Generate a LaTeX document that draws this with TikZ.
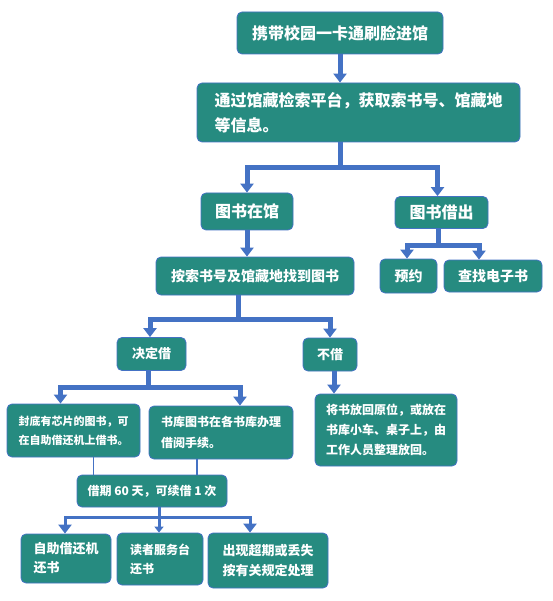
\documentclass[tikz,border=0pt]{standalone}
\usepackage{fontspec}
\setmainfont{Noto Sans CJK SC}
\usepackage{tikz}
\usetikzlibrary{arrows.meta,shapes}
\definecolor{boxfill}{RGB}{38,139,128}
\definecolor{linkblue}{RGB}{68,114,196}
\tikzstyle{step box}=[rectangle,rounded corners=5pt,fill=boxfill,draw=linkblue,line width=0.8pt,text=white,font=\bfseries,inner sep=0pt,align=left]
\tikzstyle{link} = [draw=linkblue,line width=5pt,-{Triangle[width=13pt,length=9pt]}]
\tikzstyle{thin link} = [draw=linkblue,line width=1.6pt]
\newcommand{\fs}[2]{\fontsize{#1}{#2}\selectfont}

\begin{document}
\begin{tikzpicture}[x=1pt,y=-1pt]
        \useasboundingbox[fill=white] (0,0) rectangle (552,601);
        \node[step box,minimum width=206pt,minimum height=42pt,font=\bfseries\fs{16}{20}] (gate) at (340,33) {携带校园一卡通刷脸进馆};
        \node[step box,minimum width=323pt,minimum height=59pt,font=\bfseries\fs{16}{25}] (info) at (358.5,112.5) {通过馆藏检索平台，获取索书号、馆藏地\\等信息。};
        \node[step box,minimum width=92pt,minimum height=37pt,font=\bfseries\fs{16}{20}] (inlib) at (247,211.5) {图书在馆};
        \node[step box,minimum width=93pt,minimum height=32pt,font=\bfseries\fs{16}{20}] (out) at (441.5,212.5) {图书借出};
        \node[step box,minimum width=57pt,minimum height=34pt,font=\bfseries\fs{14}{18}] (reserve) at (408.5,276) {预约};
        \node[step box,minimum width=98pt,minimum height=32pt,font=\bfseries\fs{14}{18}] (ebook) at (493,276) {查找电子书};
        \node[step box,minimum width=198pt,minimum height=38pt,font=\bfseries\fs{14}{18}] (find) at (255,276) {按索书号及馆藏地找到图书};
        \node[step box,minimum width=69pt,minimum height=33pt,font=\bfseries\fs{13}{17}] (borrow) at (151.5,354) {决定借};
        \node[step box,minimum width=54pt,minimum height=33pt,font=\bfseries\fs{13}{17}] (noborrow) at (330,354.5) {不借};
        \node[step box,minimum width=133pt,minimum height=53pt,font=\bfseries\fs{11}{19}] (chip) at (73.5,430.5) {封底有芯片的图书，可\\在自助借还机上借书。};
        \node[step box,minimum width=144pt,minimum height=53pt,font=\bfseries\fs{12}{21}] (stack) at (221,432.5) {书库图书在各书库办理\\借阅手续。};
        \node[step box,minimum width=142pt,minimum height=72pt,font=\bfseries\fs{12}{20}] (back) at (386,430) {将书放回原位，或放在\\书库小车、桌子上，由\\工作人员整理放回。};
        \node[step box,minimum width=150pt,minimum height=32pt,font=\bfseries\fs{12}{16}] (term) at (152,491) {借期 60 天，可续借 1 次};
        \node[step box,minimum width=90pt,minimum height=49pt,font=\bfseries\fs{13}{19}] (selfret) at (66,558.5) {自助借还机\\还书};
        \node[step box,minimum width=86pt,minimum height=52pt,font=\bfseries\fs{12}{19}] (desk) at (160,559) {读者服务台\\还书};
        \node[step box,minimum width=120pt,minimum height=55pt,font=\bfseries\fs{13}{20}] (rule) at (268,560.5) {出现超期或丢失\\按有关规定处理};
        % connectors
        \draw[link] (gate.south) -- (gate.south |- info.north);
        \draw[link] (gate.south |- info.south) -- ++(0,25) -| (inlib.north);
        \draw[link] (gate.south |- info.south) -- ++(0,25) -| ([xshift=-4pt]out.north);
        \draw[link] (inlib.south) -- (inlib.south |- find.north);
        \draw[link] ([xshift=-3pt]out.south) -- ++(0,17) -| ([xshift=-1.5pt]reserve.north);
        \draw[link] ([xshift=-3pt]out.south) -- ++(0,17) -| ([xshift=-14pt]ebook.north);
        \draw[link] ([xshift=-17pt]find.south) -- ++(0,24) -| ([xshift=-1.5pt]borrow.north);
        \draw[link] ([xshift=-17pt]find.south) -- ++(0,24) -| (noborrow.north);
        \draw[link] ([xshift=-3pt]borrow.south) -- ++(0,17) -| ([xshift=-13pt]chip.north);
        \draw[link] ([xshift=-3pt]borrow.south) -- ++(0,17) -| ([xshift=19pt]stack.north);
        \draw[link] ([xshift=4pt]noborrow.south) -- ([xshift=4pt]noborrow.south |- back.north);
        \draw[thin link] ([xshift=20pt]chip.south) -- ([xshift=20pt]chip.south |- term.north);
        \draw[thin link] ([xshift=-24pt]stack.south) -- ([xshift=-24pt]stack.south |- term.north);
        \draw[link,line width=3pt] ([xshift=7pt]term.south) -- ++(0,10) -| ([xshift=-1pt]selfret.north);
        \draw[link,line width=3pt,-{Triangle[width=9pt,length=6pt]}] ([xshift=7pt]term.south) -- ++(0,10) -| ([xshift=-1pt]desk.north);
        \draw[link,line width=3pt] ([xshift=7pt]term.south) -- ++(0,10) -| ([xshift=-18pt]rule.north);
      \end{tikzpicture}
\end{document}
